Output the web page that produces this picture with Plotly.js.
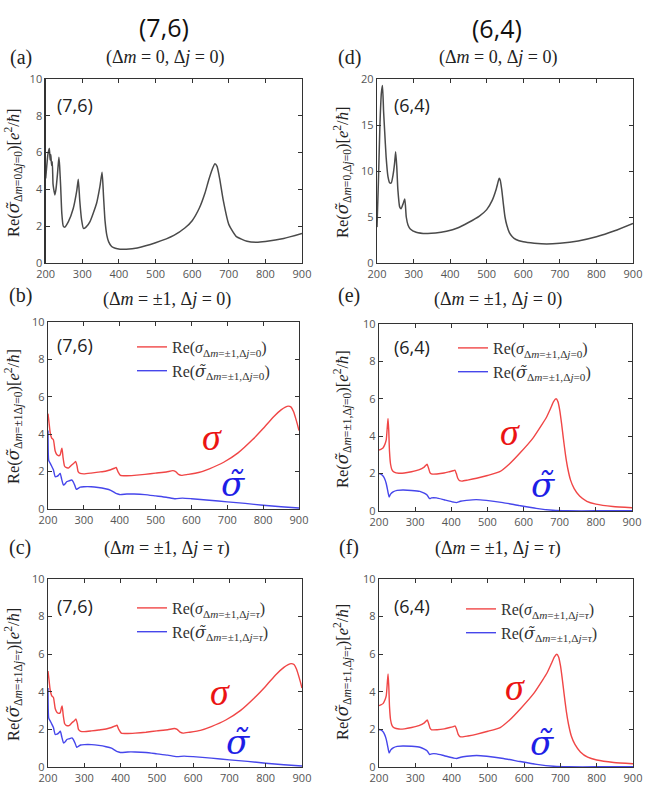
<!DOCTYPE html>
<html>
<head>
<meta charset="utf-8">
<script src="https://cdn.plot.ly/plotly-3.0.1.min.js"></script>
<style>html,body{margin:0;padding:0;background:#fff;}#chart{width:649px;height:807px;}</style>
</head>
<body>
<div id="chart"></div>
<script>
// ---------- DATA ----------
const xTicks = [200, 300, 400, 500, 600, 700, 800, 900];

// (a) (7,6) Δm=0, Δj=0
const wlA = [200,203,206,210,212,214,216,218,220,222,225,228,232,236,238,241,244,248,252,262,275,285,289,293,298,303,310,321,339,348,354,358,362,367,372,380,390,403,420,450,500,550,580,600,620,635,645,655,662,668,675,685,700,720,750,775,800,850,900];
const reA = [4.6,5.3,5.9,6.23,5.6,5.9,5.3,5.5,4.3,4.0,3.7,4.0,4.8,5.75,5.3,4.1,2.7,2.0,1.95,2.25,2.95,3.95,4.55,3.4,2.35,1.88,1.95,2.25,3.25,4.15,4.93,3.6,2.3,1.5,1.15,0.9,0.8,0.75,0.75,0.82,1.1,1.5,1.9,2.3,3.0,3.8,4.5,5.1,5.4,5.25,4.6,3.4,2.1,1.45,1.18,1.13,1.17,1.33,1.6];

// (d) (6,4) Δm=0, Δj=0
const wlD = [200,204,208,212,215,218,221,225,230,235,239,244,248,251,254,257,262,266,271,276,280,285,291,307,335,360,390,420,450,480,500,515,525,531,534,537,541,545,550,555,562,570,580,600,630,664,700,750,800,850,900];
const reD = [3.9,9.0,15.0,18.5,19.3,16.5,14.3,11.5,9.4,8.7,8.7,9.6,10.8,12.1,10.5,8.0,6.1,5.9,6.4,6.95,5.0,4.1,3.7,3.35,3.2,3.25,3.45,3.8,4.4,5.1,5.8,6.8,7.9,8.8,9.2,9.0,8.0,6.6,5.0,4.1,3.3,2.85,2.55,2.3,2.15,2.07,2.15,2.4,2.85,3.5,4.3];

// (b) (7,6) Δm=±1, Δj=0
const wlBsig = [200,203,206,210,215,220,225,230,234,237,239,242,246,250,258,266,272,277,281,284,290,300,320,340,360,375,385,390,395,402,420,440,470,500,530,548,556,564,572,590,620,650,690,730,770,800,830,850,862,870,878,885,893,900];
const reBsig = [5.1,4.6,4.1,3.8,3.7,3.1,2.9,2.85,2.9,3.15,3.25,2.75,2.3,2.22,2.2,2.35,2.45,2.55,2.3,2.0,1.9,1.88,1.92,1.97,2.02,2.1,2.18,2.22,2.0,1.8,1.78,1.8,1.85,1.92,1.98,2.05,2.0,1.85,1.8,1.85,1.95,2.15,2.5,3.0,3.7,4.3,4.95,5.3,5.45,5.5,5.45,5.2,4.7,4.2];
const wlBtil = [200,202,206,210,215,220,225,229,234,238,243,248,252,258,266,270,275,279,284,290,300,320,340,360,375,388,395,402,420,440,470,500,530,555,575,600,650,700,750,800,850,900];
const reBtil = [4.2,2.6,2.45,2.3,2.1,1.73,1.75,1.8,1.9,1.6,1.28,1.35,1.46,1.5,1.55,1.46,1.25,1.05,1.1,1.17,1.19,1.19,1.15,1.08,1.0,0.85,0.8,0.77,0.8,0.8,0.77,0.7,0.63,0.55,0.58,0.55,0.47,0.38,0.3,0.2,0.12,0.05];

// (c) (7,6) Δm=±1, Δj=τ
const wlCsig = [200,203,206,210,215,220,225,230,234,237,239,242,246,250,258,266,272,277,281,284,290,300,320,340,360,375,385,390,395,402,420,440,470,500,530,548,556,564,572,590,620,650,690,730,770,800,830,850,862,870,878,885,893,900];
const reCsig = [5.1,4.6,4.1,3.8,3.7,3.1,2.9,2.85,2.9,3.15,3.25,2.75,2.3,2.22,2.2,2.35,2.45,2.55,2.3,2.0,1.9,1.88,1.92,1.97,2.02,2.1,2.18,2.22,2.0,1.8,1.78,1.8,1.85,1.92,1.98,2.05,2.0,1.85,1.8,1.85,1.95,2.15,2.5,3.0,3.7,4.3,4.95,5.3,5.45,5.5,5.45,5.2,4.7,4.2];
const wlCtil = [200,202,206,210,215,220,225,229,234,238,243,248,252,258,266,270,275,279,284,290,300,320,340,360,375,388,395,402,420,440,470,500,530,555,575,600,650,700,750,800,850,900];
const reCtil = [4.2,2.6,2.45,2.3,2.1,1.73,1.75,1.8,1.9,1.6,1.28,1.35,1.46,1.5,1.55,1.46,1.25,1.05,1.1,1.17,1.19,1.19,1.15,1.08,1.0,0.85,0.8,0.77,0.8,0.8,0.77,0.7,0.63,0.55,0.58,0.55,0.47,0.38,0.3,0.2,0.12,0.05];

// (e) (6,4) Δm=±1, Δj=0
const wlEsig = [200,205,211,216,220,223,225,227,229,232,236,242,255,270,290,310,325,333,337,341,345,360,380,395,405,410,414,418,423,430,445,470,500,534,560,590,626,650,663,675,683,690,695,700,705,710,716,722,730,740,755,775,800,847,900];
const reEsig = [3.26,3.3,3.37,3.55,3.8,4.5,4.95,4.3,3.2,2.5,2.2,2.08,2.02,2.03,2.1,2.2,2.35,2.5,2.3,2.05,1.98,1.98,2.03,2.1,2.15,2.18,2.0,1.75,1.62,1.6,1.65,1.75,1.9,2.1,2.5,3.1,3.9,4.6,5.0,5.5,5.85,6.0,5.85,5.4,4.7,3.9,3.0,2.3,1.65,1.2,0.8,0.52,0.37,0.24,0.17];
const wlEtil = [200,205,210,215,220,225,228,232,239,250,266,290,313,325,333,340,345,359,380,405,414,425,442,469,497,543,589,635,681,720,800,900];
const reEtil = [2.0,1.97,1.9,1.75,1.47,1.0,0.75,0.9,1.02,1.1,1.12,1.1,1.05,0.95,0.85,0.66,0.7,0.7,0.6,0.48,0.45,0.52,0.57,0.61,0.57,0.45,0.29,0.14,0.04,0.01,0.01,0.01];

// (f) (6,4) Δm=±1, Δj=τ
const wlFsig = [200,205,211,216,220,223,225,227,229,232,236,242,255,270,290,310,325,333,337,341,345,360,380,395,405,410,414,418,423,430,445,470,500,534,560,590,626,650,663,675,683,690,695,700,705,710,716,722,730,740,755,775,800,847,900];
const reFsig = [3.26,3.3,3.37,3.55,3.8,4.5,4.95,4.3,3.2,2.5,2.2,2.08,2.02,2.03,2.1,2.2,2.35,2.5,2.3,2.05,1.98,1.98,2.03,2.1,2.15,2.18,2.0,1.75,1.62,1.6,1.65,1.75,1.9,2.1,2.5,3.1,3.9,4.6,5.0,5.5,5.85,6.0,5.85,5.4,4.7,3.9,3.0,2.3,1.65,1.2,0.8,0.52,0.37,0.24,0.17];
const wlFtil = [200,205,210,215,220,225,228,232,239,250,266,290,313,325,333,340,345,359,380,405,414,425,442,469,497,543,589,635,681,720,800,900];
const reFtil = [2.0,1.97,1.9,1.75,1.47,1.0,0.75,0.9,1.02,1.1,1.12,1.1,1.05,0.95,0.85,0.66,0.7,0.7,0.6,0.48,0.45,0.52,0.57,0.61,0.57,0.45,0.29,0.14,0.04,0.01,0.01,0.01];

// ---------- LAYOUT HELPERS ----------
const W = 649, H = 807;
const px = v => v / W;
const py = v => 1 - v / H;

const SERIF = 'DejaVu Serif, Liberation Serif, serif';
const TSERIF = 'Liberation Serif, DejaVu Serif, serif';
const SANS = 'Open Sans, Liberation Sans, sans-serif';
const RED = 'rgb(240,70,70)';
const BLUE = 'rgb(70,70,235)';
const GRAY = '#4a4a4a';

function xax(l, r, anchor) {
  return {domain: [px(l), px(r)], range: [200, 900], tickvals: xTicks, anchor: anchor,
    showline: true, mirror: 'ticks', linecolor: '#333', linewidth: 1.3,
    ticks: 'inside', ticklen: 4, tickcolor: '#333', showgrid: false, zeroline: false,
    tickfont: {family: SANS, size: 11, color: '#555'}, fixedrange: true};
}
function yax(t, b, anchor, max, dt) {
  return {domain: [py(b), py(t)], range: [0, max], dtick: dt, anchor: anchor,
    showline: true, mirror: 'ticks', linecolor: '#333', linewidth: 1.3,
    ticks: 'inside', ticklen: 4, tickcolor: '#333', showgrid: false, zeroline: false,
    tickfont: {family: SANS, size: 11, color: '#555'}, fixedrange: true};
}

const sig = '<i>σ</i>';
const sigt = '<span style="font-family:DejaVu Serif"><i>σ̃</i></span>';
const unit = '[<i>e</i><sup>2</sup>/<i>ħ</i>]';
const subB = 'Δ<i>m</i>=±1,Δ<i>j</i>=0';
const subC = 'Δ<i>m</i>=±1,Δ<i>j</i>=<i>τ</i>';

const traces = [
  {x: wlA, y: reA, xaxis: 'x', yaxis: 'y', mode: 'lines', line: {color: GRAY, width: 1.5, shape: 'spline', smoothing: 0.5}, showlegend: false},
  {x: wlD, y: reD, xaxis: 'x4', yaxis: 'y4', mode: 'lines', line: {color: GRAY, width: 1.5, shape: 'spline', smoothing: 0.5}, showlegend: false},
  {x: wlBsig, y: reBsig, xaxis: 'x2', yaxis: 'y2', mode: 'lines', line: {color: RED, width: 1.4, shape: 'spline', smoothing: 0.5}, legend: 'legend', name: 'Re(' + sig + '<sub>' + subB + '</sub>)'},
  {x: wlBtil, y: reBtil, xaxis: 'x2', yaxis: 'y2', mode: 'lines', line: {color: BLUE, width: 1.4, shape: 'spline', smoothing: 0.5}, legend: 'legend', name: 'Re(' + sigt + '<sub>' + subB + '</sub>)'},
  {x: wlCsig, y: reCsig, xaxis: 'x3', yaxis: 'y3', mode: 'lines', line: {color: RED, width: 1.4, shape: 'spline', smoothing: 0.5}, legend: 'legend2', name: 'Re(' + sig + '<sub>' + subC + '</sub>)'},
  {x: wlCtil, y: reCtil, xaxis: 'x3', yaxis: 'y3', mode: 'lines', line: {color: BLUE, width: 1.4, shape: 'spline', smoothing: 0.5}, legend: 'legend2', name: 'Re(' + sigt + '<sub>' + subC + '</sub>)'},
  {x: wlEsig, y: reEsig, xaxis: 'x5', yaxis: 'y5', mode: 'lines', line: {color: RED, width: 1.4, shape: 'spline', smoothing: 0.5}, legend: 'legend3', name: 'Re(' + sig + '<sub>' + subB + '</sub>)'},
  {x: wlEtil, y: reEtil, xaxis: 'x5', yaxis: 'y5', mode: 'lines', line: {color: BLUE, width: 1.4, shape: 'spline', smoothing: 0.5}, legend: 'legend3', name: 'Re(' + sigt + '<sub>' + subB + '</sub>)'},
  {x: wlFsig, y: reFsig, xaxis: 'x6', yaxis: 'y6', mode: 'lines', line: {color: RED, width: 1.4, shape: 'spline', smoothing: 0.5}, legend: 'legend4', name: 'Re(' + sig + '<sub>' + subC + '</sub>)'},
  {x: wlFtil, y: reFtil, xaxis: 'x6', yaxis: 'y6', mode: 'lines', line: {color: BLUE, width: 1.4, shape: 'spline', smoothing: 0.5}, legend: 'legend4', name: 'Re(' + sigt + '<sub>' + subC + '</sub>)'}
];

function leg(xl, yt) {
  return {x: px(xl), y: py(yt), xanchor: 'left', yanchor: 'top', xref: 'paper', yref: 'paper',
    bgcolor: 'rgba(0,0,0,0)', borderwidth: 0, tracegroupgap: 0, itemwidth: 30,
    font: {family: TSERIF, size: 16, color: '#333'}};
}

function ann(text, x, y, size, opts) {
  return Object.assign({text: text, x: px(x), y: py(y), xref: 'paper', yref: 'paper',
    showarrow: false, xanchor: 'center', yanchor: 'middle',
    font: {family: TSERIF, size: size, color: '#222'}}, opts || {});
}
const RSIG = {family: TSERIF, size: 38, color: 'rgb(235,20,20)'};
const BSIG = {family: SERIF, size: 34, color: 'rgb(30,30,230)'};

const annotations = [
  ann('(7,6)', 164, 27, 25, {font: {family: SANS, size: 25, color: '#111'}}),
  ann('(6,4)', 497, 28, 25, {font: {family: SANS, size: 25, color: '#111'}}),
  ann('(a)', 21, 57, 20), ann('(d)', 349, 57, 20),
  ann('(b)', 20, 296, 20), ann('(e)', 349, 296, 20),
  ann('(c)', 20, 547, 20), ann('(f)', 349, 547, 20),
  ann('(Δ<i>m</i> = 0, Δ<i>j</i> = 0)', 165, 57, 18),
  ann('(Δ<i>m</i> = 0, Δ<i>j</i> = 0)', 498, 57, 18),
  ann('(Δ<i>m</i> = ±1, Δ<i>j</i> = 0)', 167, 299, 18),
  ann('(Δ<i>m</i> = ±1, Δ<i>j</i> = 0)', 498, 299, 18),
  ann('(Δ<i>m</i> = ±1, Δ<i>j</i> = <i>τ</i>)', 167, 548, 18),
  ann('(Δ<i>m</i> = ±1, Δ<i>j</i> = <i>τ</i>)', 498, 548, 18),
  ann('(7,6)', 75, 105, 18, {font: {family: SANS, size: 18, color: '#222'}}),
  ann('(6,4)', 412, 105, 18, {font: {family: SANS, size: 18, color: '#222'}}),
  ann('(7,6)', 75, 345, 18, {font: {family: SANS, size: 18, color: '#222'}}),
  ann('(6,4)', 412, 347, 18, {font: {family: SANS, size: 18, color: '#222'}}),
  ann('(7,6)', 75, 606, 18, {font: {family: SANS, size: 18, color: '#222'}}),
  ann('(6,4)', 412, 606, 18, {font: {family: SANS, size: 18, color: '#222'}}),
  // y-axis titles
  ann('Re(' + sigt + '<sub>Δ<i>m</i>=0Δ<i>j</i>=0</sub>)' + unit, 13, 173, 16.5, {textangle: -90}),
  ann('Re(' + sigt + '<sub>Δ<i>m</i>=0,Δ<i>j</i>=0</sub>)' + unit, 342, 173, 16.5, {textangle: -90}),
  ann('Re(' + sigt + '<sub>Δ<i>m</i>=±1Δ<i>j</i>=0</sub>)' + unit, 13, 417, 16.5, {textangle: -90}),
  ann('Re(' + sigt + '<sub>Δ<i>m</i>=±1,Δ<i>j</i>=0</sub>)' + unit, 342, 419, 16.5, {textangle: -90}),
  ann('Re(' + sigt + '<sub>Δ<i>m</i>=±1Δ<i>j</i>=<i>τ</i></sub>)' + unit, 13, 675, 16.5, {textangle: -90}),
  ann('Re(' + sigt + '<sub>Δ<i>m</i>=±1,Δ<i>j</i>=<i>τ</i></sub>)' + unit, 342, 672, 16.5, {textangle: -90}),
  // big sigma labels
  ann('<i>σ</i>', 212, 437, 38, {font: RSIG}),
  ann('<i>σ̃</i>', 233, 484, 34, {font: BSIG}),
  ann('<i>σ</i>', 510, 432, 38, {font: RSIG}),
  ann('<i>σ̃</i>', 543, 485, 34, {font: BSIG}),
  ann('<i>σ</i>', 220, 692, 38, {font: RSIG}),
  ann('<i>σ̃</i>', 238, 742, 34, {font: BSIG}),
  ann('<i>σ</i>', 515, 687, 38, {font: RSIG}),
  ann('<i>σ̃</i>', 542, 743, 34, {font: BSIG}),
  // common x title (cut at bottom)
  ann('Wavelength [nm]', 338, 800, 17, {yanchor: 'top', font: {family: SANS, size: 17, color: '#222'}})
];

const layout = {
  width: W, height: H,
  margin: {l: 0, r: 0, t: 0, b: 0},
  paper_bgcolor: '#fff', plot_bgcolor: '#fff',
  showlegend: true,
  xaxis: xax(45.7, 302, 'y'),   yaxis: yax(79, 263, 'x', 10, 2),
  xaxis2: xax(48, 299, 'y2'),   yaxis2: yax(322, 509, 'x2', 10, 2),
  xaxis3: xax(48, 302, 'y3'),   yaxis3: yax(579, 767, 'x3', 10, 2),
  xaxis4: xax(377, 633, 'y4'),  yaxis4: yax(79, 263, 'x4', 20, 5),
  xaxis5: xax(379, 632, 'y5'),  yaxis5: yax(324, 511, 'x5', 10, 2),
  xaxis6: xax(379, 633, 'y6'),  yaxis6: yax(579, 767, 'x6', 10, 2),
  legend: leg(132, 330),
  legend2: leg(132, 591),
  legend3: leg(453, 331),
  legend4: leg(461, 592),
  annotations: annotations
};

Plotly.newPlot('chart', traces, layout, {staticPlot: true, displayModeBar: false});
</script>
</body>
</html>
